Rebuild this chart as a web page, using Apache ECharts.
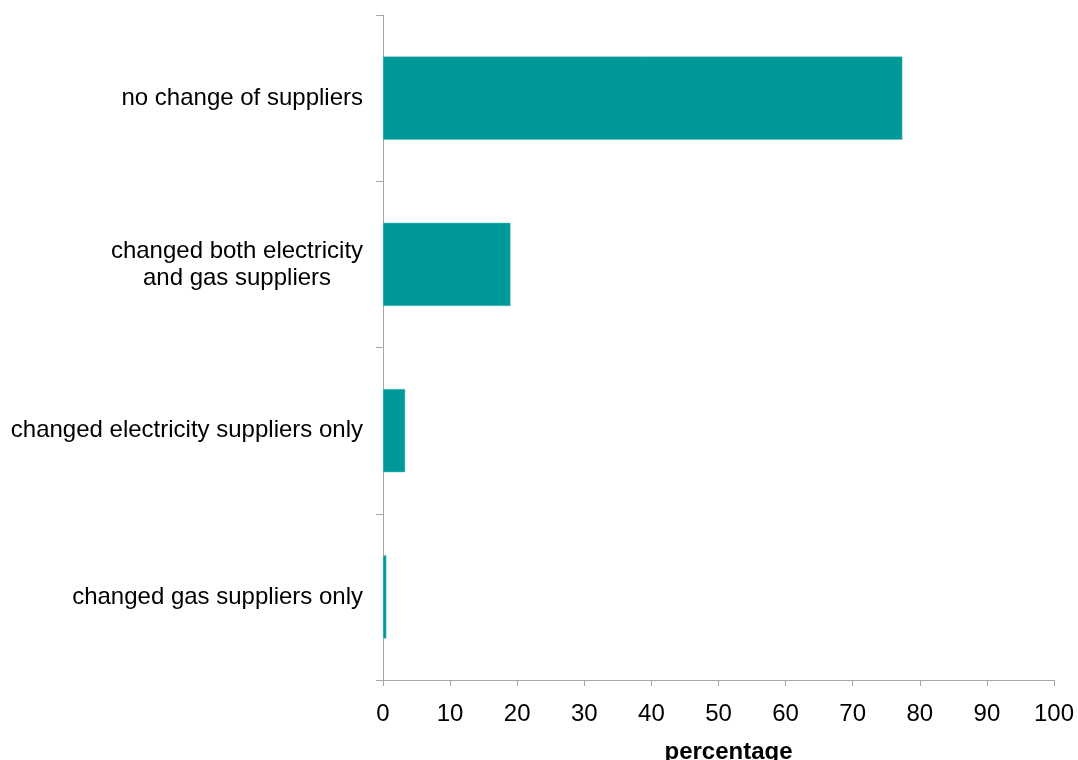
<!DOCTYPE html>
<html><head><meta charset="utf-8">
<script src="https://cdn.jsdelivr.net/npm/echarts@6/dist/echarts.min.js"></script>
<style>html,body{margin:0;padding:0;background:#fff}#c{width:1078px;height:760px}</style>
</head><body><div id="c"></div>
<script>
var categories = ["no change of suppliers", "changed both electricity\nand gas suppliers", "changed electricity suppliers only", "changed gas suppliers only"];
var values = [77.4, 19.0, 3.3, 0.5];
var xTicks = [0, 10, 20, 30, 40, 50, 60, 70, 80, 90, 100];
var xName = "percentage";

var chart = echarts.init(document.getElementById('c'), null, {renderer: 'canvas'});
chart.setOption({
  animation: false,
  grid: {left: 383, right: 24, top: 15, bottom: 80, containLabel: false, outerBoundsMode: 'none'},
  xAxis: {
    type: 'value', min: xTicks[0], max: xTicks[xTicks.length - 1], interval: 10,
    name: xName, nameLocation: 'middle', nameGap: 60,
    nameTextStyle: {fontFamily: 'Liberation Sans', fontWeight: 'bold', fontSize: 24, color: '#000', padding: [0, 0, 0, 20]},
    axisLine: {show: true, lineStyle: {color: '#a6a6a6', width: 1}},
    axisTick: {show: true, length: 6, inside: false, lineStyle: {color: '#a6a6a6'}},
    axisLabel: {fontFamily: 'Liberation Sans', fontSize: 24, color: '#000', margin: 22},
    splitLine: {show: false}
  },
  yAxis: {
    type: 'category', data: categories, inverse: true,
    axisLine: {show: true, lineStyle: {color: '#a6a6a6', width: 1}},
    axisTick: {show: true, length: 7, lineStyle: {color: '#a6a6a6'}},
    axisLabel: {
      fontFamily: 'Liberation Sans', fontSize: 24, color: '#000', margin: 20, lineHeight: 27,
      formatter: function (v) {
        if (v.indexOf('\n') >= 0) {
          return v.split('\n').map(function (l) { return '{c|' + l + '}'; }).join('\n');
        }
        return v;
      },
      rich: {c: {fontFamily: 'Liberation Sans', fontSize: 24, color: '#000', width: 252, align: 'center', lineHeight: 27}}
    }
  },
  series: [{
    type: 'bar', data: values, barWidth: '50%',
    itemStyle: {color: '#009999', borderColor: '#4dbdbd', borderWidth: 0.5}
  }]
});
</script></body></html>
